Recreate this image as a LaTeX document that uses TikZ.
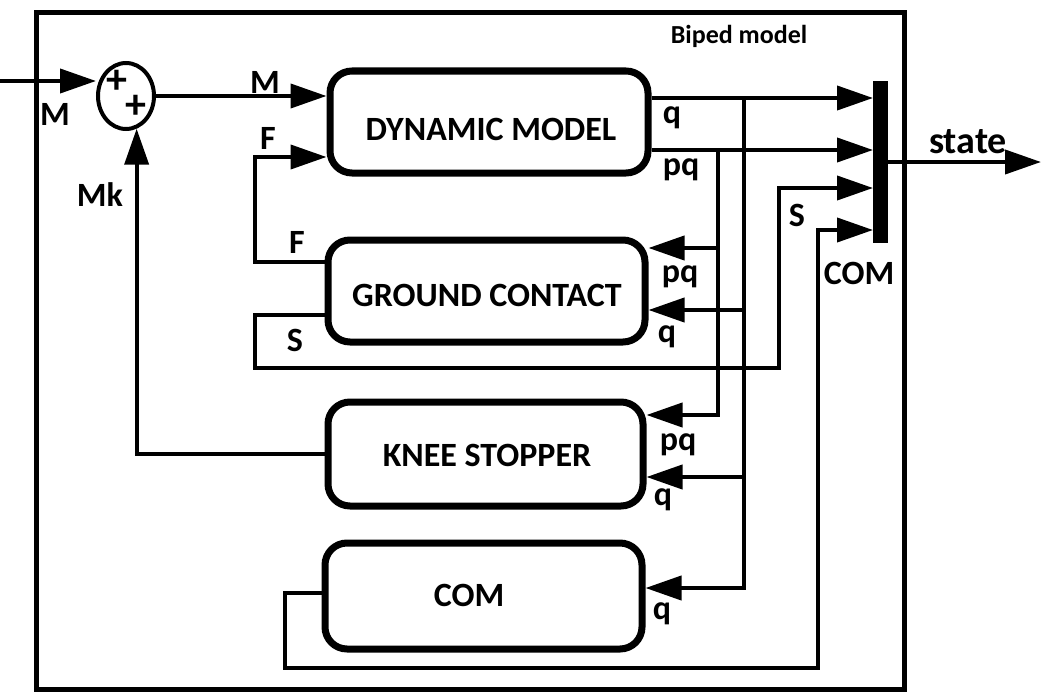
\documentclass[tikz,border=0pt]{standalone}
\usepackage{fontspec}
\setmainfont{Carlito}
\usetikzlibrary{arrows.meta,shapes.geometric,calc}
\begin{document}
\begin{tikzpicture}[x=1pt,y=-1pt,
  wire/.style={line width=4pt},
  arr/.style={wire,-{Triangle[length=36pt,width=24pt]}},
  blk/.style={draw,line width=7pt,rounded corners=22pt,inner sep=0pt},
  boxtxt/.style={inner sep=0pt,font=\fontsize{34pt}{34pt}\selectfont\bfseries},
  lbl/.style={inner sep=0pt,font=\fontsize{34pt}{34pt}\selectfont\bfseries},
  plusg/.style={inner sep=0pt,font=\fontsize{42pt}{42pt}\selectfont\bfseries},
  titl/.style={inner sep=0pt,font=\fontsize{26pt}{26pt}\selectfont\bfseries}
]
\useasboundingbox (0,0) rectangle (1041,693);
% outer frame
\draw[line width=5pt] (36,13) rectangle (904,689);
\node[titl] (title) at (739,36) {Biped model};

% blocks
\node[blk,minimum width=318pt,minimum height=102pt] (dyn) at (489,122) {};
\node[boxtxt] (dynT) at (491,129) {DYNAMIC MODEL};
\node[blk,minimum width=317pt,minimum height=102pt] (gnd) at (486.5,291) {};
\node[boxtxt] (gndT) at (487,295) {GROUND CONTACT};
\node[blk,minimum width=315pt,minimum height=104pt] (knee) at (485.5,454) {};
\node[boxtxt] (kneeT) at (487,455) {KNEE STOPPER};
\node[blk,minimum width=317pt,minimum height=106pt] (com) at (483.5,596) {};
\node[boxtxt] (comT) at (469,595) {COM};

% sum
\node[draw,ellipse,line width=4pt,minimum width=56pt,minimum height=66pt,inner sep=0pt] (sum) at (126,96) {};
\node[plusg] (p1) at (117,82) {+};
\node[plusg] (p2) at (136,107) {+};

% mux bar
\node[fill=black,minimum width=15pt,minimum height=162pt,inner sep=0pt,outer sep=0pt] (mux) at (880.5,162) {};

% coordinates
\coordinate (in) at (0,81);
\coordinate (out) at (1041,162);
\coordinate (yq) at (0,98);
\coordinate (yp) at (0,150);
\coordinate (yS) at (0,188);
\coordinate (yC) at (0,230);
\coordinate (xp) at (718,0);
\coordinate (xq) at (744,0);
\coordinate (ypg) at (0,248);
\coordinate (ypk) at (0,415);
\coordinate (yqg) at (0,310);
\coordinate (yqk) at (0,477);
\coordinate (yqc) at (0,588);
\coordinate (yF1) at (0,262);
\coordinate (yF0) at (0,157);
\coordinate (xL) at (255,0);
\coordinate (yS1) at (0,315);
\coordinate (yS2) at (0,368);
\coordinate (xS) at (779,0);
\coordinate (yC1) at (0,593);
\coordinate (yC2) at (0,668);
\coordinate (xCL) at (285,0);
\coordinate (xC) at (818,0);

% wires
\draw[arr] (in) -- (in -| sum.west);
\draw[arr] (sum.east) -- (sum.east -| dyn.west);
\draw[arr] (dyn.east |- yq) -- (mux.west |- yq);
\draw[arr] (dyn.east |- yp) -- (mux.west |- yp);
\draw[arr] (xp |- yp) -- (xp |- ypk) -- (knee.east |- ypk);
\draw[arr] (xp |- ypg) -- (gnd.east |- ypg);
\draw[arr] (xq |- yq) -- (xq |- yqc) -- (com.east |- yqc);
\draw[arr] (xq |- yqg) -- (gnd.east |- yqg);
\draw[arr] (xq |- yqk) -- (knee.east |- yqk);
\draw[arr] (gnd.west |- yF1) -- (xL |- yF1) -- (xL |- yF0) -- (dyn.west |- yF0);
\draw[arr] (gnd.west |- yS1) -- (xL |- yS1) -- (xL |- yS2) -- (xS |- yS2) -- (xS |- yS) -- (mux.west |- yS);
\draw[arr] (com.west |- yC1) -- (xCL |- yC1) -- (xCL |- yC2) -- (xC |- yC2) -- (xC |- yC) -- (mux.west |- yC);
\draw[arr] (knee.west) -| (sum.-72);
\draw[arr] (mux.east) -- (out);

% labels
\node[lbl] (lM0) at (55,114) {M};
\node[lbl] (lM1) at (265,82) {M};
\node[lbl] (lF0) at (268,138) {F};
\node[lbl] (lMk) at (100,195) {Mk};
\node[lbl] (lF1) at (297,242) {F};
\node[lbl] (lS1) at (295,340) {S};
\node[lbl] (lq0) at (672,118) {q};
\node[lbl] (lp0) at (681,170) {pq};
\node[lbl] (lp1) at (680,277) {pq};
\node[lbl] (lq1) at (667,337) {q};
\node[lbl] (lp2) at (678,445) {pq};
\node[lbl] (lq2) at (663,500) {q};
\node[lbl] (lq3) at (662,614) {q};
\node[lbl] (lS2) at (797,215) {S};
\node[lbl] (lC) at (859,273) {COM};
\node[lbl,font=\fontsize{38pt}{38pt}\selectfont\bfseries] (lst) at (968,142) {state};
\end{tikzpicture}
\end{document}
